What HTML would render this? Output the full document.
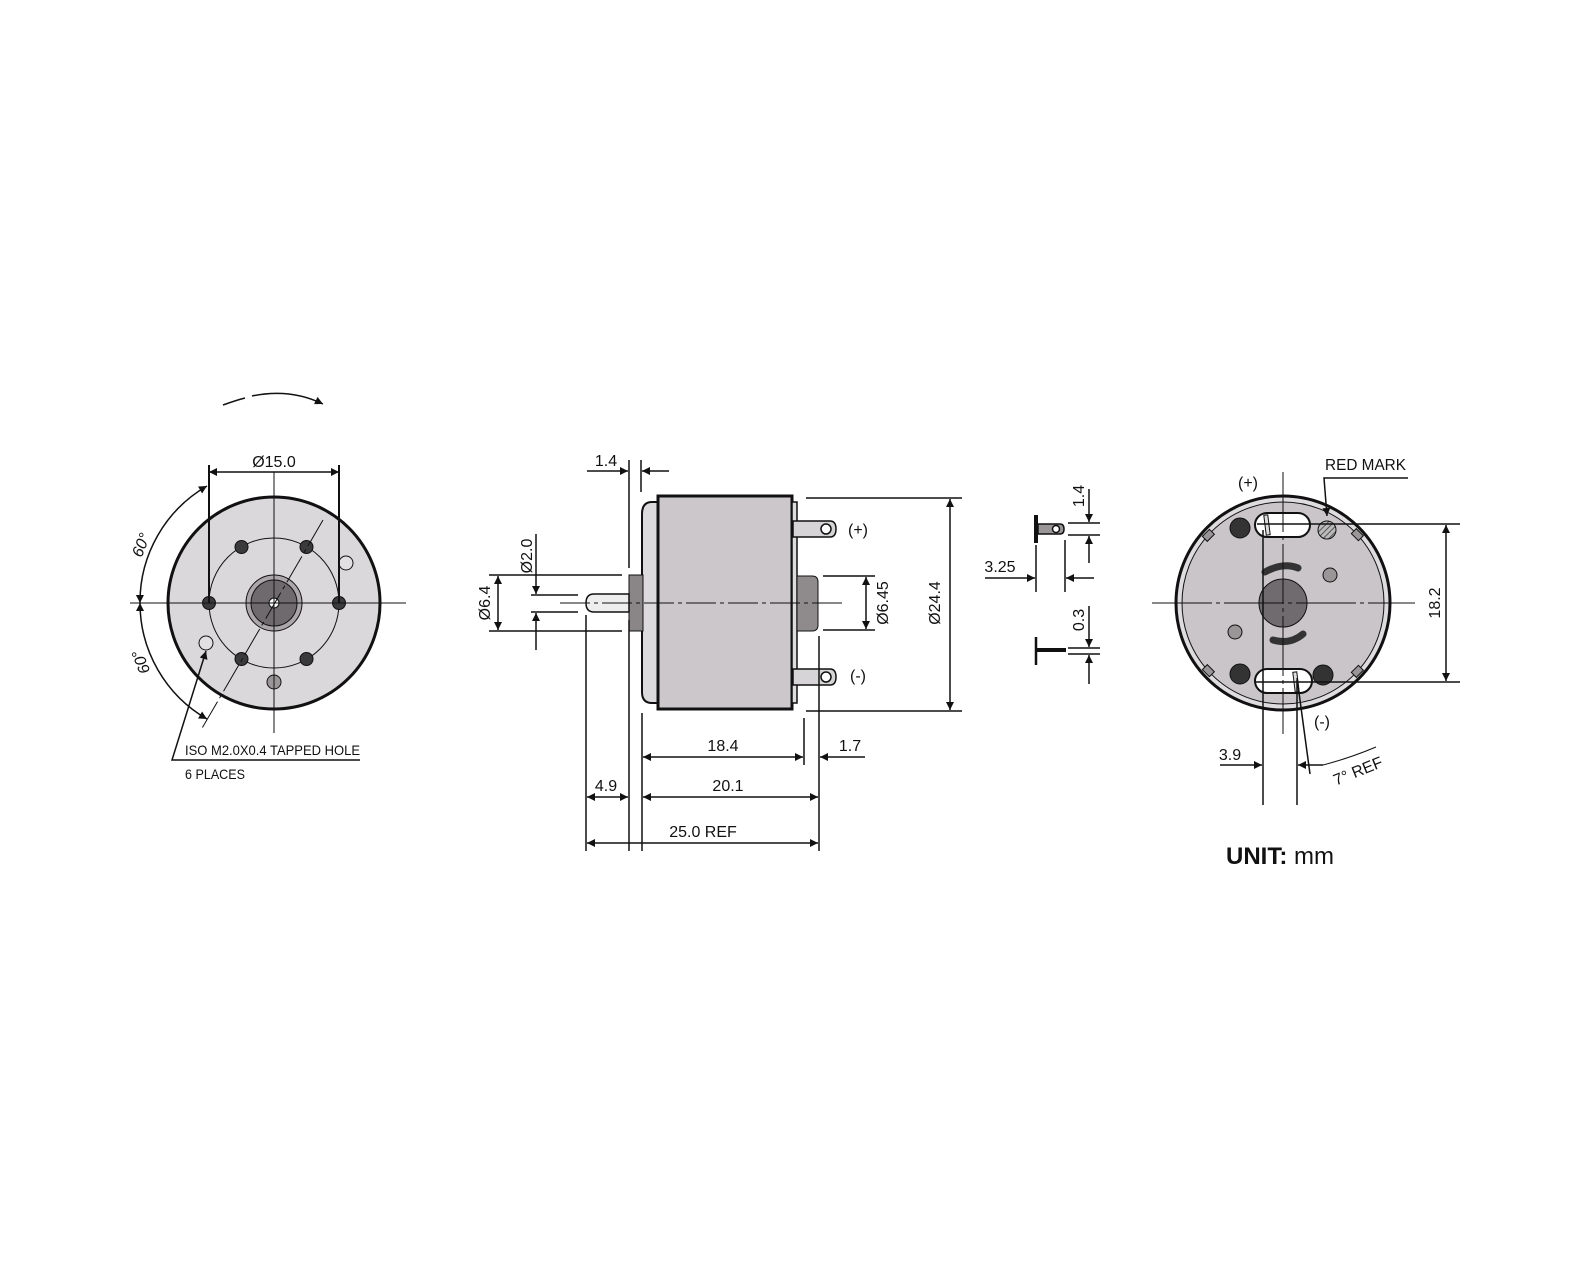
<!DOCTYPE html>
<html><head><meta charset="utf-8"><style>
html,body{margin:0;padding:0;background:#fff}
svg{display:block}
text{font-family:"Liberation Sans",sans-serif;font-size:16px;fill:#111}
</style></head><body>
<svg width="1590" height="1261" viewBox="0 0 1590 1261" xmlns="http://www.w3.org/2000/svg">
<defs>
<marker id="a" viewBox="0 0 10 10" refX="10" refY="5" markerWidth="13" markerHeight="8" orient="auto-start-reverse" markerUnits="userSpaceOnUse"><path d="M0,0 L10,5 L0,10 z" fill="#111"/></marker>
<pattern id="h" width="4" height="4" patternUnits="userSpaceOnUse" patternTransform="rotate(45)"><rect width="4" height="4" fill="#bbb"/><line x1="0" y1="0" x2="0" y2="4" stroke="#333" stroke-width="1.5"/></pattern>
</defs>
<g stroke="#111" fill="none">

<!-- LEFT VIEW -->
<circle cx="274" cy="603" r="106" fill="#dad8da" stroke-width="3"/>
<circle cx="274" cy="603" r="65" stroke-width="1"/>
<circle cx="274" cy="603" r="28" fill="#aaa6a9" stroke-width="1"/>
<circle cx="274" cy="603" r="23" fill="#6e6a6d" stroke-width="1"/>
<circle cx="274" cy="603" r="5" fill="#fff" stroke-width="1"/>
<g fill="#3a3a3c" stroke-width="1">
<circle cx="339" cy="603" r="6.5"/><circle cx="209" cy="603" r="6.5"/>
<circle cx="306.5" cy="547" r="6.5"/><circle cx="241.5" cy="547" r="6.5"/>
<circle cx="241.5" cy="659" r="6.5"/><circle cx="306.5" cy="659" r="6.5"/>
</g>
<circle cx="346" cy="563" r="7" fill="#e2e0e2" stroke-width="1"/>
<circle cx="206" cy="643" r="7" fill="#e2e0e2" stroke-width="1"/>
<circle cx="274" cy="682" r="7" fill="#9a9698" stroke-width="1"/>
<line x1="130" y1="603" x2="406" y2="603" stroke-width="1"/>
<line x1="274" y1="472" x2="274" y2="733" stroke-width="1"/>
<line x1="323" y1="520" x2="201" y2="730" stroke-width="1" stroke-dasharray="30,4,4,4"/>
<line x1="209" y1="465" x2="209" y2="603" stroke-width="2"/>
<line x1="339" y1="465" x2="339" y2="603" stroke-width="2"/>
<line x1="209" y1="472" x2="339" y2="472" stroke-width="1.5" marker-start="url(#a)" marker-end="url(#a)"/>
<path d="M207,486 A134,134 0 0 0 140,603" stroke-width="1.5" marker-start="url(#a)" marker-end="url(#a)"/>
<path d="M140,603 A134,134 0 0 0 207,719" stroke-width="1.5" marker-start="url(#a)" marker-end="url(#a)"/>
<path d="M223,405 Q237,400 245,398" stroke-width="1.5"/>
<path d="M252,396 Q290,388 323,404" stroke-width="1.5" marker-end="url(#a)"/>
<polyline points="360,760 172,760 206,651" stroke-width="1.5" marker-end="url(#a)"/>

<!-- MIDDLE VIEW -->
<path d="M658,502 L652,502 Q642,502 642,514 L642,692 Q642,703 652,703 L658,703 Z" fill="#dcdadc" stroke-width="2"/>
<rect x="629" y="575" width="14" height="56" fill="#8a8587" stroke-width="1"/>
<path d="M629,594 L594,594 Q586,594 586,603 Q586,612 594,612 L629,612 Z" fill="#eeeeee" stroke-width="1.5"/>
<rect x="658" y="496" width="134" height="213" fill="#cbc7ca" stroke-width="3"/>
<rect x="792" y="502" width="5" height="201" fill="#ddd" stroke-width="1.5"/>
<path d="M797,576 L812,576 Q818,576 818,582 L818,625 Q818,631 812,631 L797,631 Z" fill="#8f8a8c" stroke-width="1"/>
<path d="M793,521 L830,521 Q836,521 836,529 Q836,537 830,537 L793,537 Z" fill="#d6d4d6" stroke-width="1.5"/>
<circle cx="826" cy="529" r="5" fill="#fff" stroke-width="1.5"/>
<path d="M793,669 L830,669 Q836,669 836,677 Q836,685 830,685 L793,685 Z" fill="#d6d4d6" stroke-width="1.5"/>
<circle cx="826" cy="677" r="5" fill="#fff" stroke-width="1.5"/>
<line x1="560" y1="603" x2="845" y2="603" stroke-width="1" stroke-dasharray="30,4,4,4"/>
<line x1="806" y1="498" x2="962" y2="498" stroke-width="1.5"/>
<line x1="806" y1="711" x2="962" y2="711" stroke-width="1.5"/>
<line x1="950" y1="499" x2="950" y2="710" stroke-width="1.5" marker-start="url(#a)" marker-end="url(#a)"/>
<line x1="823" y1="576" x2="875" y2="576" stroke-width="1.5"/>
<line x1="823" y1="630" x2="875" y2="630" stroke-width="1.5"/>
<line x1="866" y1="577" x2="866" y2="629" stroke-width="1.5" marker-start="url(#a)" marker-end="url(#a)"/>
<line x1="489" y1="575" x2="622" y2="575" stroke-width="1.5"/>
<line x1="489" y1="631" x2="622" y2="631" stroke-width="1.5"/>
<line x1="498" y1="576" x2="498" y2="630" stroke-width="1.5" marker-start="url(#a)" marker-end="url(#a)"/>
<line x1="531" y1="595" x2="578" y2="595" stroke-width="1.5"/>
<line x1="531" y1="612" x2="578" y2="612" stroke-width="1.5"/>
<line x1="536" y1="534" x2="536" y2="594" stroke-width="1.5" marker-end="url(#a)"/>
<line x1="536" y1="650" x2="536" y2="613" stroke-width="1.5" marker-end="url(#a)"/>
<line x1="629" y1="460" x2="629" y2="568" stroke-width="1.5"/>
<line x1="641" y1="460" x2="641" y2="492" stroke-width="1.5"/>
<line x1="587" y1="471" x2="628" y2="471" stroke-width="1.5" marker-end="url(#a)"/>
<line x1="669" y1="471" x2="642" y2="471" stroke-width="1.5" marker-end="url(#a)"/>
<line x1="586" y1="615" x2="586" y2="851" stroke-width="1.5"/>
<line x1="629" y1="620" x2="629" y2="851" stroke-width="1.5"/>
<line x1="642" y1="713" x2="642" y2="851" stroke-width="1.5"/>
<line x1="804" y1="718" x2="804" y2="765" stroke-width="1.5"/>
<line x1="819" y1="636" x2="819" y2="851" stroke-width="1.5"/>
<line x1="643" y1="757" x2="803" y2="757" stroke-width="1.5" marker-start="url(#a)" marker-end="url(#a)"/>
<line x1="865" y1="757" x2="820" y2="757" stroke-width="1.5" marker-end="url(#a)"/>
<line x1="643" y1="797" x2="818" y2="797" stroke-width="1.5" marker-start="url(#a)" marker-end="url(#a)"/>
<line x1="587" y1="797" x2="628" y2="797" stroke-width="1.5" marker-start="url(#a)" marker-end="url(#a)"/>
<line x1="587" y1="843" x2="818" y2="843" stroke-width="1.5" marker-start="url(#a)" marker-end="url(#a)"/>

<!-- TERMINAL DETAIL -->
<line x1="1036" y1="515" x2="1036" y2="543" stroke-width="4"/>
<path d="M1038,524 L1060,524 Q1064,524 1064,529 Q1064,534 1060,534 L1038,534 Z" fill="#9a9698" stroke-width="1.5"/>
<circle cx="1056" cy="529" r="3.5" fill="#fff" stroke-width="1.5"/>
<line x1="1068" y1="523" x2="1100" y2="523" stroke-width="1.5"/>
<line x1="1068" y1="535" x2="1100" y2="535" stroke-width="1.5"/>
<line x1="1089" y1="489" x2="1089" y2="522" stroke-width="1.5" marker-end="url(#a)"/>
<line x1="1089" y1="563" x2="1089" y2="536" stroke-width="1.5" marker-end="url(#a)"/>
<line x1="1036" y1="545" x2="1036" y2="592" stroke-width="1.5"/>
<line x1="1065" y1="540" x2="1065" y2="592" stroke-width="1.5"/>
<line x1="985" y1="578" x2="1035" y2="578" stroke-width="1.5" marker-end="url(#a)"/>
<line x1="1094" y1="578" x2="1066" y2="578" stroke-width="1.5" marker-end="url(#a)"/>
<line x1="1036" y1="637" x2="1036" y2="665" stroke-width="2.5"/>
<line x1="1036" y1="650" x2="1066" y2="650" stroke-width="4"/>
<line x1="1068" y1="648" x2="1100" y2="648" stroke-width="1.5"/>
<line x1="1068" y1="654" x2="1100" y2="654" stroke-width="1.5"/>
<line x1="1089" y1="606" x2="1089" y2="647" stroke-width="1.5" marker-end="url(#a)"/>
<line x1="1089" y1="684" x2="1089" y2="655" stroke-width="1.5" marker-end="url(#a)"/>

<!-- RIGHT VIEW -->
<circle cx="1283" cy="603" r="107" fill="#dedcde" stroke-width="3"/>
<circle cx="1283" cy="603" r="101" fill="#c9c5c8" stroke-width="1"/>
<g fill="#9a9698" stroke-width="1">
<rect x="1205" y="530" width="7" height="10" transform="rotate(45 1208 535)"/>
<rect x="1354" y="530" width="7" height="10" transform="rotate(-45 1357 535)"/>
<rect x="1205" y="666" width="7" height="10" transform="rotate(-45 1208 671)"/>
<rect x="1354" y="666" width="7" height="10" transform="rotate(45 1357 671)"/>
</g>
<circle cx="1283" cy="603" r="24" fill="#6f6b6e" stroke-width="1"/>
<rect x="1255" y="513" width="55" height="24" rx="12" fill="#fff" stroke-width="2"/>
<rect x="1255" y="669" width="57" height="24" rx="12" fill="#fff" stroke-width="2"/>
<rect x="1265" y="515" width="4" height="20" fill="#ddd" stroke-width="1" transform="rotate(-7 1267 525)"/>
<rect x="1294" y="672" width="4" height="20" fill="#ddd" stroke-width="1" transform="rotate(-7 1296 682)"/>
<g fill="#333" stroke-width="1">
<circle cx="1240" cy="528" r="10"/><circle cx="1240" cy="674" r="10"/><circle cx="1323" cy="675" r="10"/>
</g>
<circle cx="1327" cy="530" r="9" fill="url(#h)" stroke-width="1"/>
<circle cx="1330" cy="575" r="7" fill="#9a9698" stroke-width="1"/>
<circle cx="1235" cy="632" r="7" fill="#9a9698" stroke-width="1"/>
<path d="M1265,572 Q1283,562 1298,568" stroke="#333" stroke-width="7" stroke-linecap="round"/>
<path d="M1273,640 Q1290,645 1303,634" stroke="#333" stroke-width="7" stroke-linecap="round"/>
<line x1="1152" y1="603" x2="1415" y2="603" stroke-width="1" stroke-dasharray="60,4,4,4"/>
<line x1="1283" y1="472" x2="1283" y2="734" stroke-width="1" stroke-dasharray="60,4,4,4"/>
<line x1="1257" y1="524" x2="1460" y2="524" stroke-width="1.5"/>
<line x1="1255" y1="682" x2="1460" y2="682" stroke-width="1.5"/>
<line x1="1446" y1="525" x2="1446" y2="681" stroke-width="1.5" marker-start="url(#a)" marker-end="url(#a)"/>
<line x1="1263" y1="530" x2="1263" y2="805" stroke-width="1.5"/>
<line x1="1297" y1="680" x2="1297" y2="805" stroke-width="1.5"/>
<line x1="1297" y1="678" x2="1310" y2="774" stroke-width="1.5"/>
<line x1="1220" y1="765" x2="1262" y2="765" stroke-width="1.5" marker-end="url(#a)"/>
<line x1="1323" y1="765" x2="1298" y2="765" stroke-width="1.5" marker-end="url(#a)"/>
<path d="M1323,765 Q1350,758 1376,747" stroke-width="1"/>
<polyline points="1408,478 1324,478 1327,516" stroke-width="1.5" marker-end="url(#a)"/>
</g>

<!-- TEXT -->
<text x="274" y="467" text-anchor="middle">Ø15.0</text>
<text transform="translate(146,547) rotate(-68)" text-anchor="middle" font-style="italic">60°</text>
<text transform="translate(146,660) rotate(-112)" text-anchor="middle" font-style="italic">60°</text>
<text x="185" y="755" style="font-size:14px" textLength="175" lengthAdjust="spacingAndGlyphs">ISO M2.0X0.4 TAPPED HOLE</text>
<text x="185" y="779" style="font-size:14px" textLength="60" lengthAdjust="spacingAndGlyphs">6 PLACES</text>
<text x="606" y="466" text-anchor="middle">1.4</text>
<text transform="translate(532,556) rotate(-90)" text-anchor="middle">Ø2.0</text>
<text transform="translate(490,603) rotate(-90)" text-anchor="middle">Ø6.4</text>
<text transform="translate(888,603) rotate(-90)" text-anchor="middle">Ø6.45</text>
<text transform="translate(940,603) rotate(-90)" text-anchor="middle">Ø24.4</text>
<text x="848" y="535">(+)</text>
<text x="850" y="681">(-)</text>
<text x="723" y="751" text-anchor="middle">18.4</text>
<text x="850" y="751" text-anchor="middle">1.7</text>
<text x="728" y="791" text-anchor="middle">20.1</text>
<text x="606" y="791" text-anchor="middle">4.9</text>
<text x="703" y="837" text-anchor="middle">25.0 REF</text>
<text transform="translate(1084,496) rotate(-90)" text-anchor="middle">1.4</text>
<text x="1000" y="572" text-anchor="middle">3.25</text>
<text transform="translate(1084,620) rotate(-90)" text-anchor="middle">0.3</text>
<text x="1248" y="488" text-anchor="middle">(+)</text>
<text x="1322" y="727" text-anchor="middle">(-)</text>
<text x="1325" y="470" textLength="81" lengthAdjust="spacingAndGlyphs">RED MARK</text>
<text transform="translate(1440,603) rotate(-90)" text-anchor="middle">18.2</text>
<text x="1230" y="760" text-anchor="middle">3.9</text>
<text transform="translate(1360,776) rotate(-22)" text-anchor="middle">7° REF</text>
<text x="1226" y="864" style="font-size:24px"><tspan font-weight="bold">UNIT:</tspan> mm</text>
</svg>
</body></html>
